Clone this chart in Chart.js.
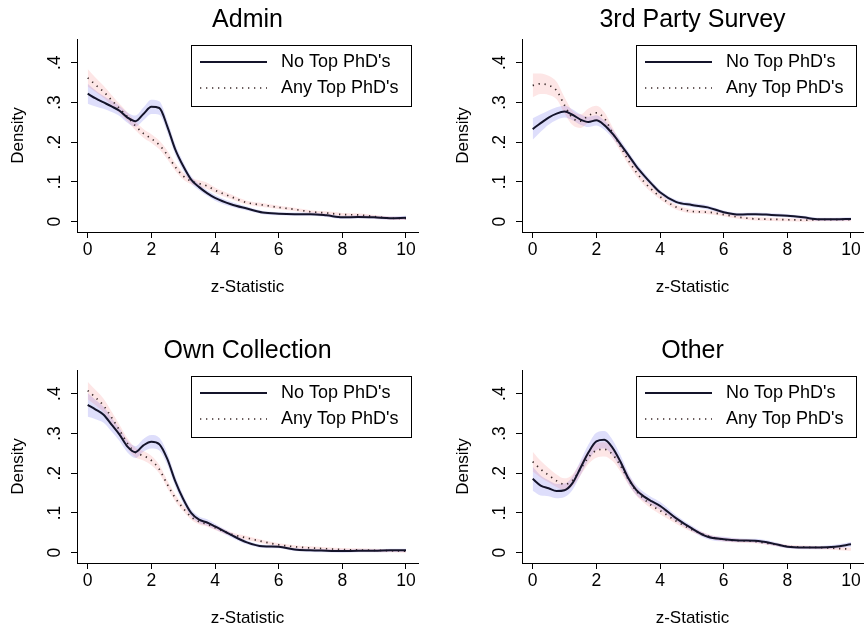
<!DOCTYPE html>
<html>
<head>
<meta charset="utf-8">
<script src="https://cdn.jsdelivr.net/npm/chart.js@4"></script>
<style>
  html, body { margin: 0; padding: 0; background: #fff; overflow: hidden; width: 864px; height: 628px; }
  .panel { position: absolute; width: 432px; height: 331px; }
</style>
</head>
<body>
<div class="panel" style="left:0;top:0"><canvas id="admin" width="432" height="331"></canvas></div>
<div class="panel" style="left:445px;top:0"><canvas id="survey" width="432" height="331"></canvas></div>
<div class="panel" style="left:0;top:331px"><canvas id="own" width="432" height="331"></canvas></div>
<div class="panel" style="left:445px;top:331px"><canvas id="other" width="432" height="331"></canvas></div>
<script>
const zValues = [0, 0.25, 0.5, 0.75, 1, 1.25, 1.5, 1.75, 2, 2.25, 2.5, 2.75, 3, 3.25, 3.5, 3.75, 4,
                 4.5, 5, 5.5, 6, 6.5, 7, 7.5, 8, 8.5, 9, 9.5, 10];

const xTicks = [0, 2, 4, 6, 8, 10];
const yTicks = [0, 0.1, 0.2, 0.3, 0.4];
const yTickLabels = ['0', '.1', '.2', '.3', '.4'];

const seriesNames = ["No Top PhD's", "Any Top PhD's"];
const panelTitles = ['Admin', '3rd Party Survey', 'Own Collection', 'Other'];

// Admin
const adminNoTop = [.322, .310, .300, .290, .279, .262, .253, .271, .289, .286, .240, .182, .140, .106, .087, .072, .060,
                    .044, .033, .023, .020, .019, .019, .016, .011, .012, .011, .009, .010];
const adminNoTopSE = [.025, .020, .016, .014, .013, .013, .014, .016, .018, .017, .015, .013, .011, .009, .008, .007, .007,
                      .006, .005, .004, .004, .004, .004, .004, .004, .004, .004, .004, .005];
const adminAnyTop = [.362, .344, .327, .306, .285, .264, .241, .222, .209, .193, .168, .138, .115, .102, .096, .090, .079,
                     .063, .048, .042, .036, .031, .025, .022, .018, .017, .013, .009, .008];
const adminAnyTopSE = [.022, .018, .015, .013, .012, .011, .011, .011, .011, .011, .011, .010, .009, .008, .008, .008, .007,
                       .006, .005, .005, .004, .004, .004, .004, .004, .004, .004, .004, .004];

// 3rd Party Survey
const surveyNoTop = [.233, .248, .262, .272, .277, .269, .257, .251, .255, .243, .222, .196, .168, .140, .116, .094, .074,
                     .050, .042, .036, .024, .018, .019, .017, .015, .011, .006, .006, .007];
const surveyNoTopSE = [.027, .022, .018, .016, .015, .014, .013, .013, .013, .012, .011, .010, .009, .008, .008, .007, .006,
                       .005, .005, .005, .004, .004, .004, .004, .004, .004, .004, .004, .004];
const surveyAnyTop = [.343, .347, .343, .330, .293, .261, .253, .267, .274, .260, .225, .190, .155, .125, .100, .080, .063,
                      .037, .026, .024, .018, .011, .007, .006, .005, .004, .005, .005, .005];
const surveyAnyTopSE = [.030, .026, .024, .022, .020, .018, .017, .018, .018, .016, .014, .012, .011, .010, .009, .008, .007,
                        .006, .005, .005, .004, .004, .004, .004, .004, .004, .004, .004, .004];

// Own Collection
const ownNoTop = [.372, .360, .347, .322, .297, .267, .253, .270, .279, .273, .236, .180, .135, .100, .083, .076, .066,
                  .045, .026, .016, .015, .008, .006, .005, .004, .005, .005, .006, .006];
const ownNoTopSE = [.030, .024, .020, .017, .016, .015, .015, .016, .017, .016, .015, .013, .011, .009, .008, .008, .007,
                    .006, .005, .004, .004, .004, .004, .004, .004, .004, .004, .004, .004];
const ownAnyTop = [.408, .390, .370, .340, .308, .275, .252, .244, .232, .210, .172, .138, .112, .090, .078, .072, .063,
                   .047, .037, .028, .020, .015, .012, .010, .008, .007, .006, .005, .004];
const ownAnyTopSE = [.022, .019, .017, .015, .014, .013, .012, .012, .012, .011, .010, .009, .008, .007, .007, .006, .006,
                     .005, .005, .004, .004, .004, .004, .004, .004, .004, .004, .004, .004];

// Other
const otherNoTop = [.186, .169, .162, .155, .157, .175, .213, .252, .280, .284, .265, .230, .188, .158, .141, .129, .118,
                    .087, .061, .040, .034, .031, .030, .024, .015, .013, .013, .015, .021];
const otherNoTopSE = [.030, .025, .020, .018, .017, .017, .018, .020, .022, .022, .020, .017, .014, .012, .011, .010, .010,
                      .008, .007, .006, .006, .005, .005, .005, .004, .004, .004, .005, .006];
const otherAnyTop = [.229, .210, .195, .181, .172, .182, .210, .240, .257, .260, .248, .220, .185, .155, .135, .118, .106,
                     .080, .058, .042, .033, .030, .028, .022, .016, .014, .013, .011, .009];
const otherAnyTopSE = [.025, .021, .018, .016, .015, .015, .016, .017, .018, .018, .017, .015, .013, .011, .010, .009, .009,
                       .007, .006, .005, .005, .005, .004, .004, .004, .004, .004, .004, .004];

const FONT = "'Liberation Sans', Arial, Helvetica, sans-serif";

function pts(vals) {
    return zValues.map((z, i) => ({ x: z, y: vals[i] }));
}
function band(vals, se, sign) {
    return zValues.map((z, i) => ({ x: z, y: vals[i] + sign * se[i] }));
}

// legend drawn as a framed box inside the plot, like Stata does
const boxLegend = {
    id: 'boxLegend',
    afterDraw(chart) {
        const { ctx, chartArea } = chart;
        const w = 220, h = 61;
        const left = Math.round(chartArea.right - 227);
        const top = Math.round(chartArea.top + 6);
        ctx.save();
        ctx.fillStyle = '#fff';
        ctx.fillRect(left, top, w, h);
        ctx.strokeStyle = '#000';
        ctx.lineWidth = 1;
        ctx.strokeRect(left + 0.5, top + 0.5, w, h);
        chart.data.datasets.filter(d => d.inLegend).forEach((d, i) => {
            const y = top + 17 + i * 26;
            ctx.beginPath();
            ctx.setLineDash(d.borderDash || []);
            ctx.lineWidth = d.borderWidth;
            ctx.strokeStyle = d.borderColor;
            ctx.moveTo(left + 9, y);
            ctx.lineTo(left + 76, y);
            ctx.stroke();
            ctx.setLineDash([]);
            ctx.fillStyle = '#000';
            ctx.font = '18px ' + FONT;
            ctx.textBaseline = 'middle';
            ctx.textAlign = 'left';
            ctx.fillText(d.label, left + 90, y);
        });
        ctx.restore();
    }
};

function makePanel(id, title, noTop, noTopSE, anyTop, anyTopSE) {
    const ctx = document.getElementById(id).getContext('2d');
    new Chart(ctx, {
        type: 'line',
        data: {
            datasets: [
                {
                    label: seriesNames[0], inLegend: true, data: pts(noTop),
                    borderColor: '#14142a', borderWidth: 2, pointRadius: 0,
                    cubicInterpolationMode: 'monotone', fill: false, order: 0
                },
                {
                    label: seriesNames[1], inLegend: true, data: pts(anyTop),
                    borderColor: '#3a2a2a', borderWidth: 1.7, borderDash: [1.3, 4.7], pointRadius: 0,
                    cubicInterpolationMode: 'monotone', fill: false, order: 1
                },
                {
                    label: 'noTopHi', data: band(noTop, noTopSE, 1), borderWidth: 0, pointRadius: 0,
                    cubicInterpolationMode: 'monotone', fill: '+1', backgroundColor: 'rgba(90,90,235,0.2)', order: 3
                },
                {
                    label: 'noTopLo', data: band(noTop, noTopSE, -1), borderWidth: 0, pointRadius: 0,
                    cubicInterpolationMode: 'monotone', fill: false, order: 3
                },
                {
                    label: 'anyTopHi', data: band(anyTop, anyTopSE, 1), borderWidth: 0, pointRadius: 0,
                    cubicInterpolationMode: 'monotone', fill: '+1', backgroundColor: 'rgba(240,90,90,0.15)', order: 2
                },
                {
                    label: 'anyTopLo', data: band(anyTop, anyTopSE, -1), borderWidth: 0, pointRadius: 0,
                    cubicInterpolationMode: 'monotone', fill: false, order: 2
                }
            ]
        },
        options: {
            responsive: false,
            animation: false,
            layout: { padding: { left: 0, right: 14, top: 0, bottom: 0 } },
            plugins: {
                legend: { display: false },
                tooltip: { enabled: false },
                title: {
                    display: true,
                    fullSize: false,
                    text: title,
                    color: '#000',
                    font: { family: FONT, size: 25, weight: 'normal' },
                    padding: { top: 5, bottom: 4 }
                }
            },
            scales: {
                x: {
                    type: 'linear',
                    min: -0.336,
                    max: 10.377,
                    afterBuildTicks: (scale) => { scale.ticks = xTicks.map(v => ({ value: v })); },
                    afterFit: (scale) => { scale.height = 99; },
                    grid: { drawOnChartArea: false, drawTicks: true, tickLength: 6, color: '#000' },
                    border: { display: true, color: '#000', width: 1 },
                    ticks: { color: '#000', padding: 2, maxRotation: 0, font: { family: FONT, size: 17.5 } },
                    title: {
                        display: true, text: 'z-Statistic', color: '#000',
                        font: { family: FONT, size: 17 }, padding: { top: 0, bottom: 33 }
                    }
                },
                y: {
                    min: -0.0259,
                    max: 0.4596,
                    afterBuildTicks: (scale) => { scale.ticks = yTicks.map(v => ({ value: v })); },
                    afterFit: (scale) => { scale.width = 77; },
                    grid: { drawOnChartArea: false, drawTicks: true, tickLength: 6, color: '#000' },
                    border: { display: true, color: '#000', width: 1 },
                    ticks: {
                        color: '#000', padding: 9, minRotation: 90, maxRotation: 90, crossAlign: 'center',
                        font: { family: FONT, size: 17.5 },
                        callback: (v) => yTickLabels[yTicks.indexOf(v)]
                    },
                    title: {
                        display: true, text: 'Density', color: '#000',
                        font: { family: FONT, size: 17 }, padding: { top: 8, bottom: 0 }
                    }
                }
            }
        },
        plugins: [boxLegend]
    });
}

makePanel('admin', panelTitles[0], adminNoTop, adminNoTopSE, adminAnyTop, adminAnyTopSE);
makePanel('survey', panelTitles[1], surveyNoTop, surveyNoTopSE, surveyAnyTop, surveyAnyTopSE);
makePanel('own', panelTitles[2], ownNoTop, ownNoTopSE, ownAnyTop, ownAnyTopSE);
makePanel('other', panelTitles[3], otherNoTop, otherNoTopSE, otherAnyTop, otherAnyTopSE);
</script>
</body>
</html>
